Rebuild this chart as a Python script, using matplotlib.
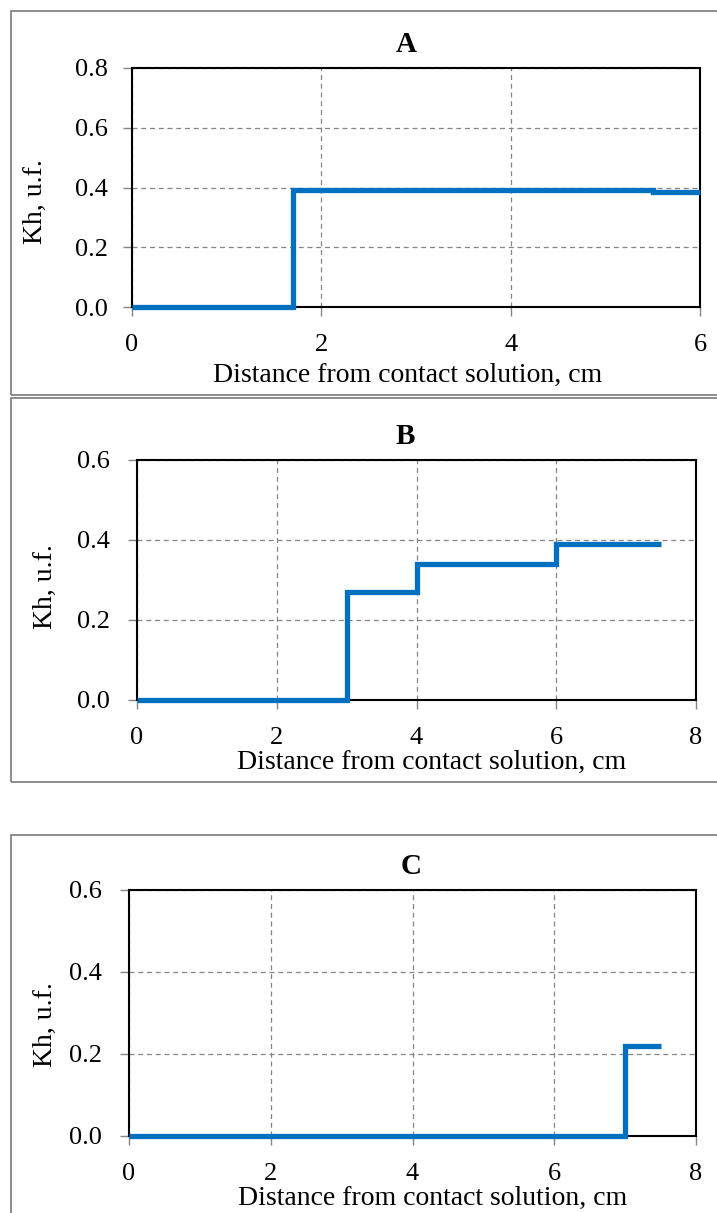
import matplotlib
matplotlib.use("Agg")
import matplotlib.pyplot as plt
from matplotlib.patches import Rectangle

plt.rcParams.update({
    "font.family": ["Liberation Serif", "DejaVu Serif"],
    "font.size": 19,
})

# --- data ---
a_x = [0, 1.7, 5.5, 6.0]
a_kh = [0, 0.393, 0.385, 0.385]

b_x = [0, 3, 4, 6, 7.5]
b_kh = [0, 0.27, 0.34, 0.39, 0.39]

c_x = [0, 7, 7.5]
c_kh = [0, 0.22, 0.22]

panel_titles = ["A", "B", "C"]
x_label = "Distance from contact solution, cm"
y_label = "Kh, u.f."

panels = [
    # title, x, y, xlim, xticks, ylim, yticks
    (panel_titles[0], a_x, a_kh, 6, [0, 2, 4, 6], 0.8, [0.0, 0.2, 0.4, 0.6, 0.8]),
    (panel_titles[1], b_x, b_kh, 8, [0, 2, 4, 6, 8], 0.6, [0.0, 0.2, 0.4, 0.6]),
    (panel_titles[2], c_x, c_kh, 8, [0, 2, 4, 6, 8], 0.6, [0.0, 0.2, 0.4, 0.6]),
]

W, H = 717, 1213
fig = plt.figure(figsize=(W / 100, H / 100), dpi=100)

# layout in pixels
boxes = [(132, 68, 700, 307), (137, 460, 696, 700), (129, 890, 696, 1136)]  # l, t, r, b
frames = [(11, 11, 395), (11, 398, 782), (11, 835, 1240)]                 # l, t, b
title_xy = [(406, 45), (405, 437), (411, 867)]
xlabel_xy = [(408, 375), (432, 762), (433, 1198)]
ylabel_xy = [(35, 202), (45, 587), (45, 1025)]
ytick_pad = [11, 13, 13]

BLUE = "#0070C0"
GRID = "#858585"

for (l, t, b) in frames:
    fig.patches.append(Rectangle((l / W, 1 - b / H), (W + 20 - l) / W, (b - t) / H,
                                 transform=fig.transFigure, fill=False,
                                 edgecolor="#7a7a7a", linewidth=1.2))

for i, (name, xs, ys, xmax, xt, ymax, yt) in enumerate(panels):
    l, t, r, b = boxes[i]
    ax = fig.add_axes([l / W, 1 - b / H, (r - l) / W, (b - t) / H])
    ax.step(xs, ys, where="post", color=BLUE, linewidth=3.8,
            solid_capstyle="butt", solid_joinstyle="miter", zorder=4, clip_on=False)
    ax.set_xlim(0, xmax)
    ax.set_ylim(0, ymax)
    ax.set_xticks(xt)
    ax.set_yticks(yt)
    ax.set_xticklabels([str(v) for v in xt])
    ax.set_yticklabels([f"{v:.1f}" for v in yt])
    ax.grid(True, color=GRID, linestyle=(0, (4, 3)), linewidth=0.9)
    ax.set_axisbelow(True)
    for s in ax.spines.values():
        s.set_linewidth(1.5)
        s.set_color("black")
    ax.tick_params(axis="both", direction="out", length=6.5, width=1, color=GRID,
                   labelsize=19)
    ax.tick_params(axis="x", pad=13)
    ax.tick_params(axis="y", pad=ytick_pad[i])

    tx, ty = title_xy[i]
    fig.text(tx / W, 1 - ty / H, name, ha="center", va="center",
             fontsize=21, fontweight="bold")
    lx, ly = xlabel_xy[i]
    fig.text(lx / W, 1 - ly / H, x_label, ha="center", va="center", fontsize=20)
    yx, yy = ylabel_xy[i]
    fig.text(yx / W, 1 - yy / H, y_label, ha="center", va="center",
             rotation=90, fontsize=20)

fig.savefig("out.png", dpi=100)
